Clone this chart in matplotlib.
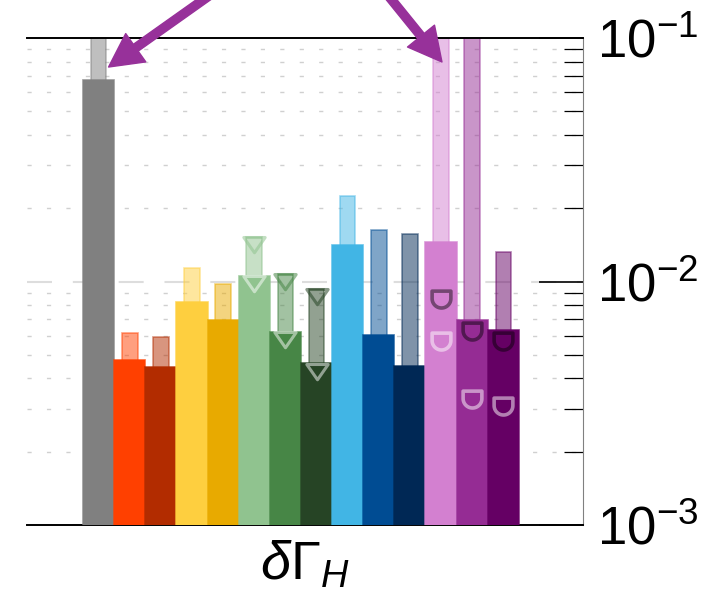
import numpy as np
import matplotlib
matplotlib.use('Agg')
import matplotlib.pyplot as plt
from matplotlib.path import Path
from matplotlib.ticker import LogLocator, NullFormatter

plt.rcParams['font.family'] = ['Liberation Sans', 'DejaVu Sans']
plt.rcParams['mathtext.fontset'] = 'custom'
plt.rcParams['mathtext.rm'] = 'Liberation Sans'
plt.rcParams['mathtext.it'] = 'Liberation Sans:italic'
plt.rcParams['mathtext.sf'] = 'Liberation Sans'

# bar colours, left to right
colors = ['#808080', '#ff4000', '#b22c00', '#fecf3f', '#e8aa00', '#90c38f', '#478646',
          '#264425', '#41b5e5', '#004c93', '#002855', '#d380d0', '#952c94', '#650064']
# wide bars (main value) and thin bars (upper value)
main_vals = [0.0672, 0.00473, 0.00446, 0.00826, 0.00693, 0.01053, 0.00622,
             0.00460, 0.01408, 0.00603, 0.00449, 0.01457, 0.00697, 0.00631]
upper_vals = [1.0, 0.00611, 0.00588, 0.01136, 0.00977, 0.01528, 0.01070,
              0.00932, 0.02251, 0.01623, 0.01567, 1.0, 1.0, 0.01326]

# bars with triangle (upper limit) markers
tri_idx = [5, 6, 7]
# bars with half-circle markers
cup_idx = [11, 12, 13]
cup_dark = [0.00838, 0.00621, 0.00563]
cup_light = [0.00563, 0.00327, 0.00305]

# arrows point at these bars
arrow_idx = [0, 11]
arrow_vals = [0.076, 0.0797]

x = np.arange(len(colors))

fig = plt.figure(figsize=(7.22, 6.03), dpi=100)
ax = fig.add_axes([27 / 722, 78 / 603, 556 / 722, 487 / 603])

# thin bars behind, wide bars in front
ax.bar(x, upper_vals, width=0.5, bottom=1e-5, color=colors, alpha=0.5,
       edgecolor=colors, linewidth=1.2, zorder=2)
ax.bar(x, main_vals, width=1.0, bottom=1e-5, color=colors,
       edgecolor=[c + 'cc' for c in colors], linewidth=1.2, zorder=3)

# triangle marker hanging below a value
tri = Path([(-1, 0), (1, 0), (0, -1.43), (-1, 0)],
           [Path.MOVETO, Path.LINETO, Path.LINETO, Path.CLOSEPOLY])
for i in tri_idx:
    ax.plot(x[i], upper_vals[i], marker=tri, ms=22, mfc='none', mec=colors[i],
            mew=2.2, alpha=0.55, zorder=4)
    ax.plot(x[i], main_vals[i], marker=tri, ms=22, mfc='none', mec='white',
            mew=2.2, alpha=0.5, zorder=4)

# cup shaped marker: flat top, round bottom
t = np.linspace(2 * np.pi, np.pi, 30)
cup_v = [(-1, 1), (1, 1)] + [(np.cos(a), 0.2 + np.sin(a)) for a in t] + [(-1, 1)]
cup_c = [Path.MOVETO] + [Path.LINETO] * (len(cup_v) - 2) + [Path.CLOSEPOLY]
cup = Path(cup_v, cup_c)
for k, i in enumerate(cup_idx):
    ax.plot(x[i], cup_dark[k], marker=cup, ms=13.5, mfc='none', mec='black',
            mew=2.6, alpha=0.45, zorder=4)
    ax.plot(x[i], cup_light[k], marker=cup, ms=13.5, mfc='none', mec='white',
            mew=2.6, alpha=0.5, zorder=4)

ax.set_yscale('log')
ax.set_ylim(1e-3, 1e-1)
ax.set_xlim(-2.3, 15.56)

ax.yaxis.tick_right()
ax.yaxis.set_major_locator(LogLocator(base=10, numticks=10))
ax.yaxis.set_minor_locator(LogLocator(base=10, subs=np.arange(2, 10), numticks=20))
ax.yaxis.set_minor_formatter(NullFormatter())
ax.tick_params(axis='y', which='major', direction='in', length=32, width=1.2,
               labelsize=38, pad=10)
ax.tick_params(axis='y', which='minor', direction='in', length=14, width=0.9)
ax.tick_params(axis='x', bottom=False, labelbottom=False)

ax.grid(True, axis='y', which='major', color='#dddddd', linewidth=1.5, dashes=(12, 10))
ax.grid(True, axis='y', which='minor', color='#d0d0d0', linewidth=1.0, dashes=(3, 11))
ax.set_axisbelow(True)

ax.spines['left'].set_visible(False)
ax.spines['right'].set_color('#808080')
ax.spines['top'].set_linewidth(1.4)
ax.spines['bottom'].set_linewidth(1.4)

ax.set_xlabel(r'$\delta\Gamma_H$', fontsize=39, labelpad=10)

# arrows from a point above the figure
for i, v in zip(arrow_idx, arrow_vals):
    xd = x[i] + (0.32 if i == 0 else 0.03)
    ax.annotate('', xy=(xd, v), xycoords='data', xytext=(323, 688),
                textcoords='figure pixels', annotation_clip=False,
                arrowprops=dict(arrowstyle='simple,head_length=1.2,head_width=1.25,tail_width=0.3',
                                color='#97319a', shrinkA=0, shrinkB=0,
                                mutation_scale=20), zorder=6)

fig.savefig('out.png', dpi=100)
